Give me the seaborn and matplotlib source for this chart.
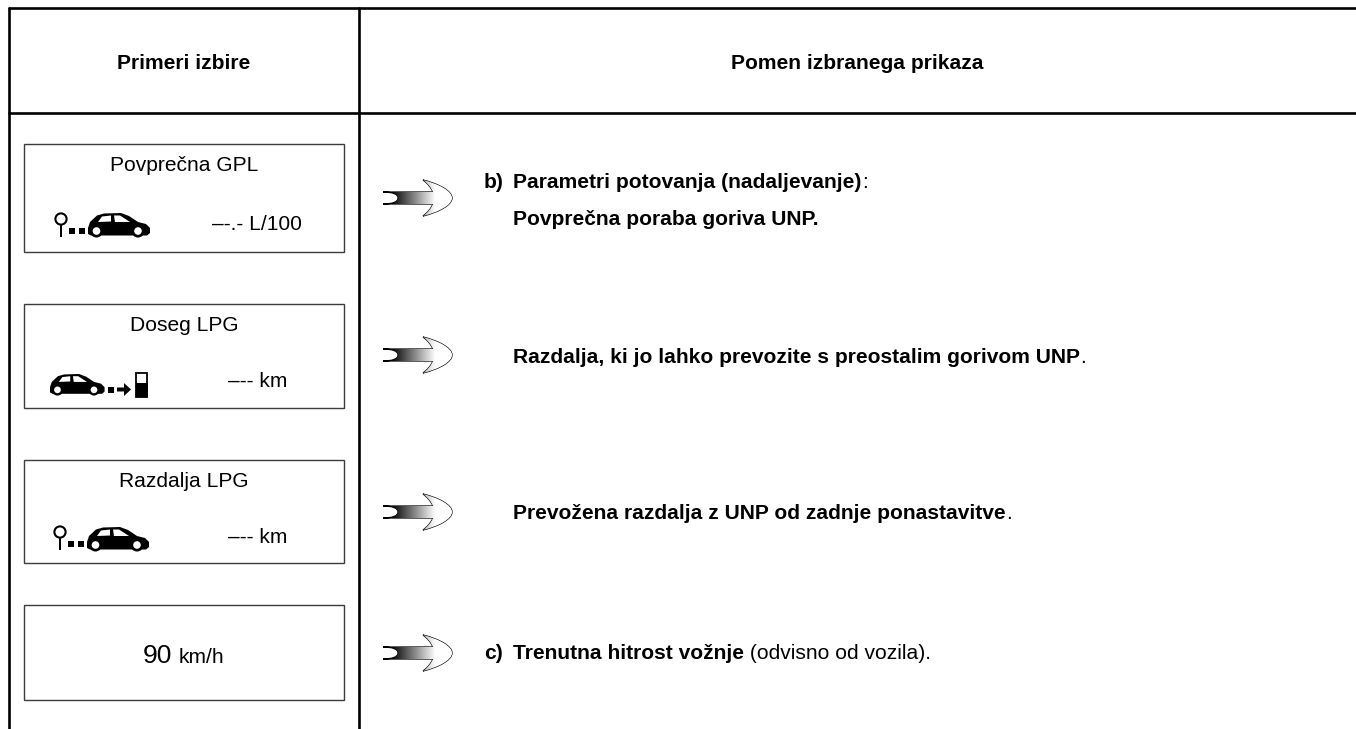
import matplotlib
matplotlib.use('Agg')
import matplotlib.pyplot as plt
from matplotlib.patches import Circle, PathPatch, Polygon, Rectangle
from matplotlib.path import Path
import numpy as np
import pandas as pd
import seaborn as sns

# table content
headers = ['Primeri izbire', 'Pomen izbranega prikaza']
box_titles = ['Povprečna GPL', 'Doseg LPG', 'Razdalja LPG', '']
box_readouts = ['–-.- L/100', '–-- km', '–-- km', '']
speed_value = '90'
speed_unit = 'km/h'
row_keys = ['b)', '', '', 'c)']
row_lines = [
    [[('Parametri potovanja (nadaljevanje)', True), (':', False)],
     [('Povprečna poraba goriva UNP.', True)]],
    [[('Razdalja, ki jo lahko prevozite s preostalim gorivom UNP', True), ('.', False)]],
    [[('Prevožena razdalja z UNP od zadnje ponastavitve', True), ('.', False)]],
    [[('Trenutna hitrost vožnje', True), (' (odvisno od vozila).', False)]],
]

# layout, in picture pixels
W, H = 1356, 729
LEFT, MID = 9, 359
TOP, HEAD = 8, 113
BOX_X = (24, 344)
BOX_Y = [(144, 252), (304, 408), (460, 563), (605, 700)]
ARROW_Y = [198, 355, 512, 653]
TITLE_Y = [171, 331, 487]
READOUT = [(302, 230), (287, 387), (287, 543)]
TEXT_Y = [[188, 225], [363], [519], [659]]
TEXT_PT = 15.15

sns.set_theme(style='white')
plt.rcParams['font.family'] = ['Liberation Sans', 'DejaVu Sans']

fig, ax = plt.subplots(figsize=(W / 100, H / 100), dpi=100)
fig.subplots_adjust(0, 0, 1, 1)

frame = pd.DataFrame({
    'x': [LEFT, W, LEFT, W, LEFT, LEFT, MID, MID],
    'y': [TOP, TOP, HEAD, HEAD, TOP, H, TOP, H],
    'rule': ['top', 'top', 'head', 'head', 'left', 'left', 'mid', 'mid'],
})
sns.lineplot(data=frame, x='x', y='y', units='rule', estimator=None, sort=False,
             color='black', lw=1.9, ax=ax, legend=False)
ax.set_xlim(0, W)
ax.set_ylim(H, 0)
ax.axis('off')


def draw_car(x, y, s=1.0):
    body = [(0, 15), (2, 9), (9, 2.5), (16, 0.5), (33, 0), (41, 3), (50, 9), (58, 11),
            (62, 15), (62, 20), (59, 22.5), (3, 22.5), (0, 21)]
    windows = [[(10, 9), (14, 3.5), (23, 2.5), (23, 8.5)],
               [(26, 2.5), (32, 2.5), (42, 9), (27, 9)]]
    ax.add_patch(Polygon([(x + a * s, y + b * s) for a, b in body], fc='black', ec='none'))
    for win in windows:
        ax.add_patch(Polygon([(x + a * s, y + b * s) for a, b in win], fc='white', ec='none'))
    for cx in (8.5, 50):
        ax.add_patch(Circle((x + cx * s, y + 18 * s), 6.5 * s, fc='black', ec='none'))
        ax.add_patch(Circle((x + cx * s, y + 18 * s), 3.8 * s, fc='white', ec='none'))


def draw_pin(x, y):
    ax.add_patch(Circle((x, y), 5.6, fc='white', ec='black', lw=1.5))
    ax.add_patch(Rectangle((x - 1.4, y + 5), 2.8, 12.5, fc='black', ec='none'))
    for dx in (8, 18):
        ax.add_patch(Rectangle((x + dx, y + 9), 6, 6, fc='black', ec='none'))


def draw_pump(x, y):
    ax.add_patch(Rectangle((x + 1, y + 1), 11, 24, fc='white', ec='black', lw=1.3))
    ax.add_patch(Rectangle((x + 0.5, y + 11), 12, 14, fc='black', ec='none'))
    ax.add_patch(Rectangle((x - 27, y + 15), 5.5, 5.5, fc='black', ec='none'))
    ax.add_patch(Polygon([(x - 18, y + 15.5), (x - 11, y + 15.5), (x - 11, y + 11), (x - 4, y + 17.5),
                          (x - 11, y + 24), (x - 11, y + 19.5), (x - 18, y + 19.5)], fc='black', ec='none'))


def draw_arrow(cy):
    x = 383
    M, L, Q, C = Path.MOVETO, Path.LINETO, Path.CURVE3, Path.CURVE4
    verts = [(x, cy - 6), (x + 50, cy - 6),
             (x + 47, cy - 13), (x + 40, cy - 18),
             (x + 56, cy - 14), (x + 69, cy - 7), (x + 69, cy),
             (x + 69, cy + 7), (x + 56, cy + 14), (x + 40, cy + 18),
             (x + 47, cy + 13), (x + 50, cy + 6),
             (x, cy + 6),
             (x + 15, cy + 6), (x + 15, cy),
             (x + 15, cy - 6), (x, cy - 6)]
    codes = [M, L, Q, Q, C, C, C, C, C, C, Q, Q, L, Q, Q, Q, Q]
    path = PathPatch(Path(verts, codes), fc='none', ec='black', lw=0.9)
    ax.add_patch(path)
    ramp = np.clip((np.arange(70) - 8) / 44, 0, 1)[None, :]
    im = ax.imshow(ramp, extent=(x, x + 70, cy + 19, cy - 19), cmap='gray', vmin=0, vmax=1,
                   aspect='auto', zorder=1, interpolation='bilinear')
    im.set_clip_path(path)


def draw_runs(x, y, runs):
    # bold and regular pieces on one baseline
    rend = fig.canvas.get_renderer()
    for label, bold in runs:
        t = ax.text(x, y, label, fontsize=TEXT_PT, color='black', va='baseline', ha='left',
                    fontweight='bold' if bold else 'normal')
        x = t.get_window_extent(rend).x1 + 0.5


for (a, b) in BOX_Y:
    ax.add_patch(Rectangle((BOX_X[0], a), BOX_X[1] - BOX_X[0], b - a, fc='white', ec='#3c3c3c', lw=1.0))

for cy in ARROW_Y:
    draw_arrow(cy)

ax.text(184, 69, headers[0], fontsize=TEXT_PT, fontweight='bold', ha='center', va='baseline', color='black')
ax.text(857, 69, headers[1], fontsize=TEXT_PT, fontweight='bold', ha='center', va='baseline', color='black')

for title, ty in zip(box_titles, TITLE_Y):
    ax.text(184, ty, title, fontsize=TEXT_PT, ha='center', va='baseline', color='black')
for label, (rx, ry) in zip(box_readouts, READOUT):
    ax.text(rx, ry, label, fontsize=TEXT_PT, ha='right', va='baseline', color='black')

ax.text(172, 663, speed_value, fontsize=19, ha='right', va='baseline', color='black')
ax.text(179, 663, speed_unit, fontsize=TEXT_PT, ha='left', va='baseline', color='black')

draw_pin(61, 219)
draw_car(88, 213)
draw_car(50, 374, 0.88)
draw_pump(135, 372)
draw_pin(60, 532)
draw_car(87, 527)

fig.canvas.draw()
for key, lines, ys in zip(row_keys, row_lines, TEXT_Y):
    if key:
        ax.text(484, ys[0], key, fontsize=TEXT_PT, fontweight='bold', ha='left', va='baseline', color='black')
    for runs, y in zip(lines, ys):
        draw_runs(513, y, runs)

ax.set_xlim(0, W)
ax.set_ylim(H, 0)
fig.savefig('out.png', dpi=100, facecolor='white')
